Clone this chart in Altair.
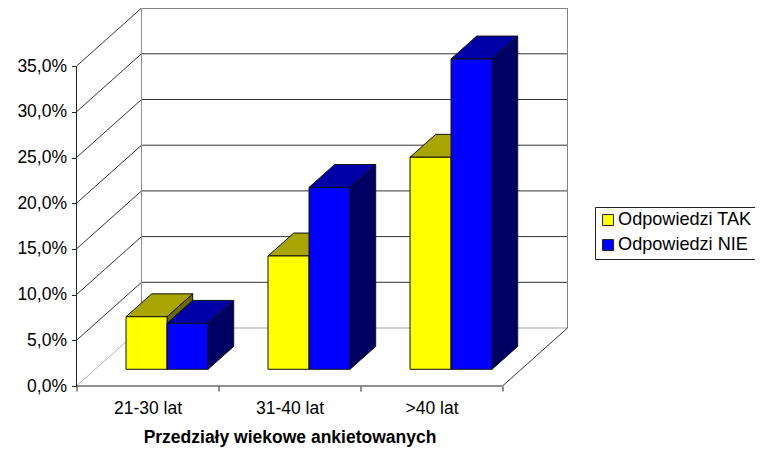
import json
import altair as alt
import pandas as pd

categories = ["21-30 lat", "31-40 lat", ">40 lat"]
series_names = ["Odpowiedzi TAK", "Odpowiedzi NIE"]
values_tak = [5.75, 12.4, 23.2]
values_nie = [5.03, 19.9, 33.95]
y_ticks = [0, 5, 10, 15, 20, 25, 30, 35]
front_colors = ["#ffff00", "#0000ff"]
top_colors = ["#a8a400", "#0000a8"]
side_colors = ["#6e6a00", "#000064"]

FONT = "Liberation Sans"
PX_CAT = 142.0
PX_PCT = 9.14
W, H = 492, 378
XMAX = W / PX_CAT
YMAX = H / PX_PCT
DX = 65 / PX_CAT      # oblique depth of the box
DY = 58 / PX_PCT
BASE = 0.288          # where bars begin along the depth
BDEPTH = 0.395        # depth of a bar
MARGIN = 30.8 / PX_CAT
BAR_W = 41 / PX_CAT

xs = alt.Scale(domain=[0, XMAX], range=[0, W], nice=False, zero=False)
ys = alt.Scale(domain=[0, YMAX], range=[H, 0], nice=False, zero=False)
X = lambda f="x", **k: alt.X(f"{f}:Q", scale=xs, axis=k.pop("axis", None), **k)
Y = lambda f="y", **k: alt.Y(f"{f}:Q", scale=ys, axis=k.pop("axis", None), **k)

# ---- box: walls, floor and grid
walls = []
def seg(x0, y0, x1, y1, c):
    i = len(walls)
    walls.append(dict(id=i, o=0, x=x0, y=y0, c=c))
    walls.append(dict(id=i, o=1, x=x1, y=y1, c=c))

for t in y_ticks:
    back = "#a0a0a0" if t == 0 else "#333333"
    side = "#b0b0b0" if t == 0 else "#333333"
    seg(DX, t + DY, 3 + DX, t + DY, back)
    seg(0, t, DX, t + DY, side)
seg(DX, DY, DX, 35 + DY, "#909090")
seg(3 + DX, DY, 3 + DX, 35 + DY, "#808080")
seg(3, 0, 3 + DX, DY, "#333333")
seg(0, 0, 0, 35, "#222222")
seg(0, 0, 3, 0, "#222222")

wall_layer = (
    alt.Chart(pd.DataFrame(walls))
    .mark_line(strokeWidth=1, clip=False)
    .encode(x=X(), y=Y(), detail="id:N", order="o:Q",
            color=alt.Color("c:N", scale=None))
)

# ---- bars
fronts, sides, tops = [], [], []
for s, (name, vals) in enumerate(zip(series_names, [values_tak, values_nie])):
    for g, v in enumerate(vals):
        x0 = g + MARGIN + s * BAR_W + BASE * DX
        x1 = x0 + BAR_W
        y0 = BASE * DY
        ddx, ddy = BDEPTH * DX, BDEPTH * DY
        fronts.append(dict(series=name, s=s, g=g, x=x0, x2=x1, y=y0, y2=y0 + v))
        for k, (px, py, py2) in enumerate([(x1, y0, y0 + v),
                                           (x1 + ddx, y0 + ddy, y0 + v + ddy)]):
            sides.append(dict(s=s, g=g, x=px, y=py, y2=py2))
        for py, px, px2 in [(y0 + v, x0, x1), (y0 + v + ddy, x0 + ddx, x1 + ddx)]:
            tops.append(dict(s=s, g=g, y=py, x=px, x2=px2))
fronts, sides, tops = map(pd.DataFrame, (fronts, sides, tops))

layers = [wall_layer]
for s in range(2):
    layers.append(
        alt.Chart(sides[sides.s == s]).mark_area(
            color=side_colors[s], stroke="#111111", strokeWidth=1, orient="vertical"
        ).encode(x=X(), y=Y(stack=None), y2="y2:Q", detail="g:N")
    )
    layers.append(
        alt.Chart(tops[tops.s == s]).mark_area(
            color=top_colors[s], stroke="#111111", strokeWidth=1, orient="horizontal"
        ).encode(y=Y(), x=X(stack=None), x2="x2:Q", detail="g:N")
    )
    layers.append(
        alt.Chart(fronts[fronts.s == s]).mark_rect(stroke="#111111", strokeWidth=1).encode(
            x=X(), x2="x2:Q", y=Y(), y2="y2:Q",
            color=alt.Color(
                "series:N",
                scale=alt.Scale(domain=series_names, range=front_colors),
                sort=series_names,
                legend=alt.Legend(
                    title=None, orient="none", legendX=518.5, legendY=199,
                    strokeColor="#222222", fillColor="white", padding=4,
                    symbolType="square", symbolSize=121, symbolStrokeColor="#222222",
                    symbolStrokeWidth=1, symbolOpacity=1, labelFont=FONT, labelFontSize=18.1,
                    labelColor="black", rowPadding=6, labelLimit=200, labelOffset=1,
                ),
            ),
        )
    )

# ---- axes
label_expr = json.dumps(categories) + "[floor(datum.value)]"
y_axis = alt.Axis(
    orient="left",
    values=y_ticks, domain=False, grid=False, title=None, tickSize=5, tickColor="#222222",
    labelExpr="replace(format(datum.value, '.1f'), '.', ',') + '%'",
    labelFont=FONT, labelFontSize=17.5, labelColor="black", labelPadding=5,
)
x_tick_axis = alt.Axis(
    orient="bottom",
    values=[0, 1, 2, 3], domain=False, grid=False, title=None, labels=False,
    tickSize=5, tickColor="#222222",
)
x_label_axis = alt.Axis(
    orient="bottom",
    values=[0.5, 1.5, 2.5], domain=False, grid=False, ticks=False,
    labelExpr=label_expr, labelFont=FONT, labelFontSize=17.5, labelColor="black",
    labelPadding=13, labelFlush=False,
    title="Przedziały wiekowe ankietowanych", titleFont=FONT, titleFontSize=17.5,
    titleFontWeight="bold", titleColor="black", titleX=213, titleY=51,
    titleAlign="center", titleBaseline="middle",
)
axis_df = pd.DataFrame({"x": [0.0], "y": [0.0]})
axis_layer_a = alt.Chart(axis_df).mark_point(opacity=0).encode(
    x=alt.X("x:Q", scale=xs, axis=x_tick_axis), y=alt.Y("y:Q", scale=ys, axis=y_axis))
axis_layer_b = alt.Chart(axis_df).mark_point(opacity=0).encode(
    x=alt.X("x:Q", scale=xs, axis=x_label_axis), y=Y())

chart = (
    alt.layer(axis_layer_a, axis_layer_b, *layers)
    .resolve_axis(x="independent", y="independent")
    .properties(
        width=W, height=H,
        autosize=alt.AutoSizeParams(type="none"),
        padding={"left": 68.5, "top": 0, "right": 186, "bottom": 62},
        background="white",
    )
    .configure_view(stroke=None)
)
chart.save("out.html", embed_options={"renderer": "svg", "actions": False})
